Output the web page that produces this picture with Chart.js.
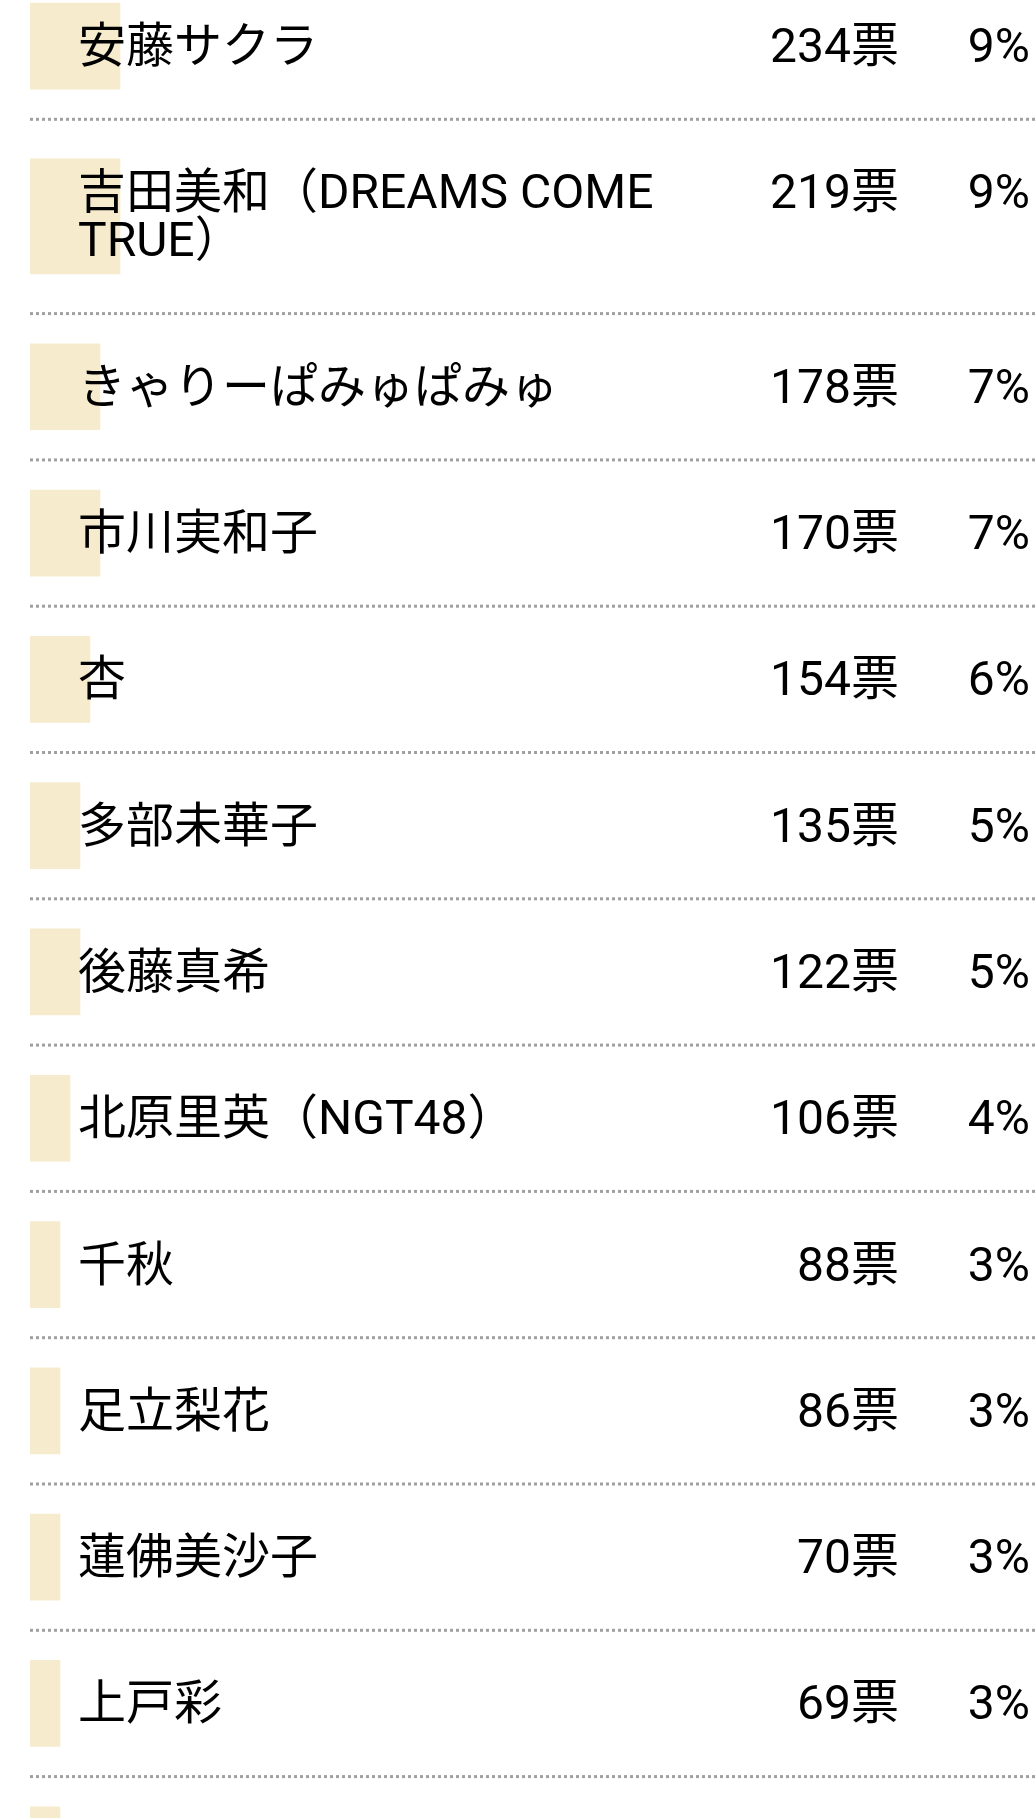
<!DOCTYPE html>
<html>
<head>
<meta charset="utf-8">
<script src="https://cdn.jsdelivr.net/npm/chart.js@4/dist/chart.umd.min.js"></script>
<style>
  html, body { margin: 0; padding: 0; background: #ffffff; }
  #wrap { width: 1035px; height: 1818px; overflow: hidden; }
  canvas { display: block; }
</style>
</head>
<body>
<div id="wrap"><canvas id="c" width="1035" height="1818"></canvas></div>
<script>
// ---- data ----
const names = [
  "安藤サクラ",
  ["吉田美和（DREAMS COME", "TRUE）"],
  "きゃりーぱみゅぱみゅ",
  "市川実和子",
  "杏",
  "多部未華子",
  "後藤真希",
  "北原里英（NGT48）",
  "千秋",
  "足立梨花",
  "蓮佛美沙子",
  "上戸彩",
  ""            // next row, only the top of its bar is visible
];
const votes = [234, 219, 178, 170, 154, 135, 122, 106, 88, 86, 70, 69, null];
const percents = [9, 9, 7, 7, 6, 5, 5, 4, 3, 3, 3, 3, 3];
const voteSuffix = "票";
const percentSuffix = "%";

// ---- layout constants (styles, not data) ----
const ROW_BASE = 146.3;     // height of a one-line row
const LINE_H = 48;          // extra height per additional label line
const BAR_BASE = 86;        // bar thickness for a one-line row
const BAR_EXTRA = 29;       // extra bar thickness per additional line
const TOP_CUT = 27;         // first row starts above the visible page
const PAGE_H = 1818;
const FONT = '48px Roboto, "Noto Sans CJK JP", sans-serif';
const BAR_COLOR = 'rgb(247,235,205)';

const lineCount = names.map(n => Array.isArray(n) ? n.length : 1);
const rowHeights = lineCount.map(l => ROW_BASE + (l - 1) * LINE_H);
const rowTops = [];
rowHeights.reduce((acc, h, i) => { rowTops[i] = acc; return acc + h; }, 0);
const rowCenters = rowTops.map((t, i) => t + rowHeights[i] / 2);
const rowBottoms = rowTops.map((t, i) => t + rowHeights[i]);

// one dataset per label-line-count so each gets its own bar thickness
const groups = [...new Set(lineCount)];
const datasets = groups.map(l => ({
  label: l + ' line rows',
  data: percents.map((p, i) => ({ x: p, y: rowCenters[i], row: i }))
                .filter(d => lineCount[d.row] === l),
  backgroundColor: BAR_COLOR,
  borderWidth: 0,
  barThickness: BAR_BASE + (l - 1) * BAR_EXTRA,
  stack: 'rows'
}));

const rowTextPlugin = {
  id: 'rowText',
  beforeDatasetsDraw(chart) {
    const ctx = chart.ctx;
    const y = chart.scales.y;
    ctx.save();
    ctx.strokeStyle = 'rgb(160,160,160)';
    ctx.lineWidth = 3;
    ctx.setLineDash([3, 3]);
    rowBottoms.forEach(b => {
      const py = y.getPixelForValue(b);
      ctx.beginPath();
      ctx.moveTo(30, py);
      ctx.lineTo(chart.width, py);
      ctx.stroke();
    });
    ctx.restore();
  },
  afterDatasetsDraw(chart) {
    const ctx = chart.ctx;
    const y = chart.scales.y;
    ctx.save();
    ctx.font = FONT;
    ctx.fillStyle = '#000000';
    ctx.textBaseline = 'alphabetic';
    names.forEach((n, i) => {
      const lines = Array.isArray(n) ? n : [n];
      const cy = y.getPixelForValue(rowCenters[i]);
      const base0 = cy + 16 - (lines.length - 1) * LINE_H / 2;
      ctx.textAlign = 'left';
      lines.forEach((t, k) => ctx.fillText(t, 78, base0 + k * LINE_H));
      if (votes[i] !== null) {
        ctx.textAlign = 'right';
        ctx.fillText(votes[i] + voteSuffix, 899, base0);
        ctx.fillText(percents[i] + percentSuffix, 1030, base0);
      }
    });
    ctx.restore();
  }
};

new Chart(document.getElementById('c'), {
  type: 'bar',
  data: { datasets },
  options: {
    indexAxis: 'y',
    responsive: false,
    animation: false,
    layout: { autoPadding: false, padding: { left: 30, right: 5, top: 0, bottom: 0 } },
    scales: {
      x: { type: 'linear', min: 0, max: 100, display: false, offset: false },
      y: { type: 'linear', reverse: true, min: TOP_CUT, max: TOP_CUT + PAGE_H,
           display: false, offset: false, grace: 0, bounds: 'data' }
    },
    plugins: { legend: { display: false }, tooltip: { enabled: false } }
  },
  plugins: [rowTextPlugin]
});
</script>
</body>
</html>
